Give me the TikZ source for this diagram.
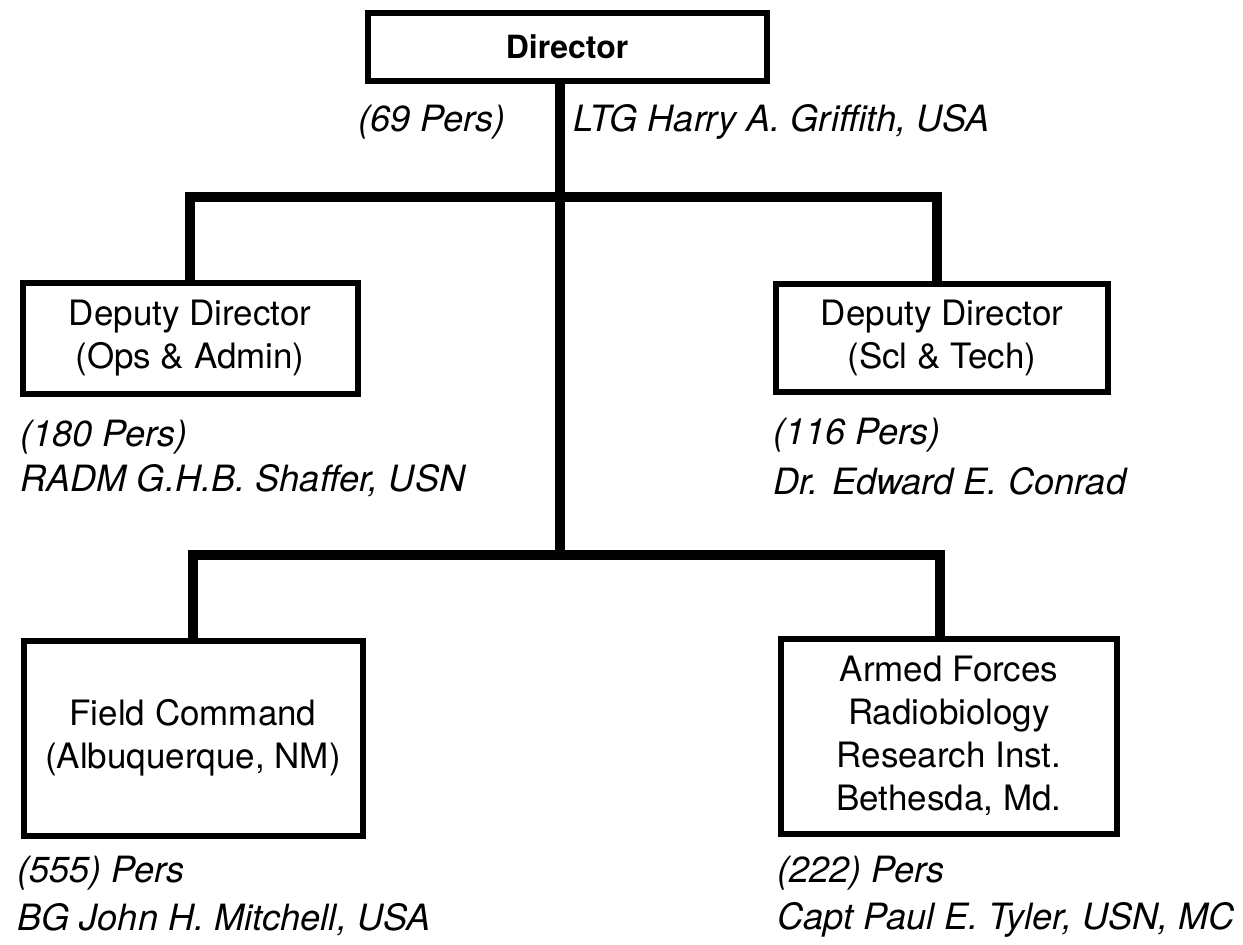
\documentclass[tikz,border=0pt]{standalone}
\usepackage{fontspec}
\setmainfont{TeX Gyre Heros}
\newcommand{\px}{0.02cm}
\tikzset{
  unitbox/.style={draw, line width=6*\px, inner sep=0pt, align=center,
    font=\fontsize{19.9}{24.5}\selectfont},
  staff/.style={anchor=west, inner sep=0pt, font=\fontsize{20.6}{24.5}\selectfont\itshape},
  link/.style={line width=10*\px, line join=miter}
}
\begin{document}
\begin{tikzpicture}[x=\px, y=-\px]
  \useasboundingbox (0,0) rectangle (1243,944);

  % ==================== DIRECTOR ====================
  \node[unitbox, minimum width=399*\px, minimum height=68*\px,
        font=\fontsize{18.2}{22}\selectfont\bfseries] (dir) at (567,47) {Director};
  \node[staff] (dirpers) at (358,122) {(69 Pers)};
  \node[staff] (dirname) at (573,122) {LTG Harry A. Griffith, USA};

  % ==================== DEPUTIES ====================
  \node[unitbox, minimum width=335*\px, minimum height=111*\px] (opsadm) at (190,338)
    {Deputy Director\\(Ops \& Admin)};
  \node[unitbox, minimum width=332*\px, minimum height=108*\px] (scitech) at (942,338)
    {Deputy Director\\(Scl \& Tech)};
  \node[staff] (opspers) at (20,437) {(180 Pers)};
  \node[staff] (opsname) at (20,481) {RADM G.H.B. Shaffer, USN};
  \node[staff] (scipers) at (773,435) {(116 Pers)};
  \node[staff] (sciname) at (773,481) {Dr. Edward E. Conrad};

  % ==================== FIELD UNITS ====================
  \node[unitbox, minimum width=339*\px, minimum height=195*\px] (field) at (193,738)
    {Field Command\\(Albuquerque, NM)};
  \node[unitbox, minimum width=336*\px, minimum height=195*\px] (afrri) at (949,736)
    {Armed Forces\\Radiobiology\\Research Inst.\\Bethesda, Md.};
  \node[staff] (fieldpers) at (17,873) {(555) Pers};
  \node[staff] (fieldname) at (17,920) {BG John H. Mitchell, USA};
  \node[staff] (afrripers) at (777,873) {(222) Pers};
  \node[staff] (afrriname) at (777,920) {Capt Paul E. Tyler, USN, MC};

  % ==================== CONNECTORS ====================
  \coordinate (topbar) at (560,197);
  \coordinate (lowbar) at (560,555);
  \draw[link] (dir.south -| topbar) -- (lowbar);
  \draw[link] (opsadm.north) |- (topbar) -| ([xshift=-5*\px]scitech.north);
  \draw[link] (field.north) |- (lowbar) -| ([xshift=-9*\px]afrri.north);
\end{tikzpicture}
\end{document}
